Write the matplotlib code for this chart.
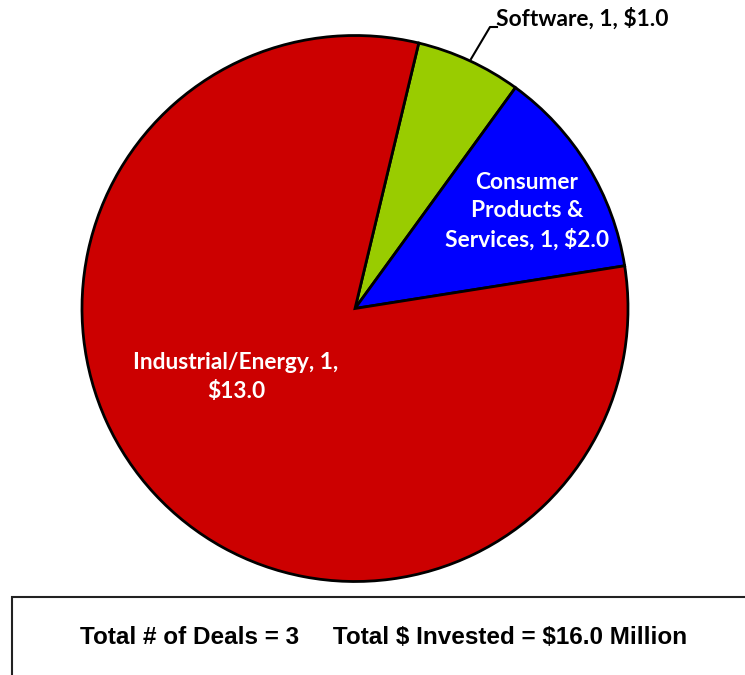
import matplotlib
matplotlib.use("Agg")
import matplotlib.pyplot as plt
from matplotlib.patches import Rectangle

plt.rcParams["text.parse_math"] = False

categories = ["Software", "Consumer Products & Services", "Industrial/Energy"]
deals = [1, 1, 1]
invested = [1.0, 2.0, 13.0]
colors = ["#99CC00", "#0000FF", "#CC0000"]

W, H = 745, 675
fig = plt.figure(figsize=(W / 100, H / 100), dpi=100)
ax = fig.add_axes([0, 0, 1, 1])

cx, cy, r = 355, H - 308.5, 273
start = 90 - 13.5
wedges, _ = ax.pie(invested, colors=colors, startangle=start, counterclock=False,
                   center=(cx, cy), radius=r, frame=True,
                   wedgeprops=dict(edgecolor="black", linewidth=2))
ax.set_xlim(0, W)
ax.set_ylim(0, H)
ax.set_aspect("equal")
ax.axis("off")

lab_font = dict(family=["Lato", "DejaVu Sans"], fontweight="bold")
fs = 16.4
# Software label with leader line
ax.plot([471, 490, 497], [H - 59, H - 27, H - 27], color="black", lw=1.5)
ax.text(496, H - 19, f"{categories[0]}, {deals[0]}, ${invested[0]:.1f}", ha="left", va="center",
        fontsize=fs, color="black", **lab_font)
ax.text(527, H - 211, f"Consumer\nProducts &\nServices, {deals[1]}, ${invested[1]:.1f}",
        ha="center", va="center", fontsize=fs, color="white", linespacing=1.4, **lab_font)
ax.text(236, H - 377, f"{categories[2]}, {deals[2]},\n${invested[2]:.1f}",
        ha="center", va="center", fontsize=fs, color="white", linespacing=1.42, **lab_font)

# Summary box
ax.add_patch(Rectangle((12, -10), 800, H - 597 + 10, fill=False, edgecolor="#222222",
                       lw=1.5, clip_on=True))
ax.text(384, H - 637,
        f"Total # of Deals = {sum(deals)}     Total $ Invested = ${sum(invested):.1f} Million",
        ha="center", va="center", fontsize=17.5, fontweight="bold",
        family="Liberation Sans", color="black")

fig.savefig("out.png", dpi=100)
